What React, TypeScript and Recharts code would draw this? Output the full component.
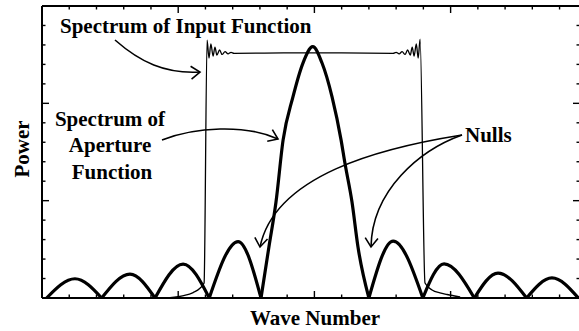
import { LineChart, Line, XAxis, YAxis } from "recharts";

// tick positions of the frame (no labels, inward marks only)
const waveTicks = [0, 1, 2, 3, 4, 5, 6, 7, 8, 9, 10, 11, 12, 13, 14, 15, 16, 17, 18, 19];
const powerTicks = [0, 1, 2, 3, 4, 5, 6, 7, 8, 9, 10, 11, 12, 13, 14, 15];

// spectrum of the aperture function (thick curve)
const apertureK = [
  0.17, 1.21, 2.19, 3.23, 4.15, 5.18, 6.14, 7.2, 8.04,
  8.33, 8.59, 8.85, 9.21, 9.58, 9.94, 10.28, 10.65, 10.98, 11.12, 11.38, 11.6, 12.0,
  12.89, 13.98, 14.76, 15.87, 16.74, 17.79, 18.72, 19.69,
];
const aperturePower = [
  0, 0.99, 0, 1.23, 0, 1.74, 0, 2.9, 0,
  2.62, 4.93, 8.11, 10.32, 12.07, 12.91, 12.07, 10.32, 8.11, 6.93, 4.93, 2.62, 0,
  2.92, 0, 1.75, 0, 1.28, 0, 1.03, 0,
];

// spectrum of the input function (thin curve)
const inputK = [
  4.7, 5.2, 5.55, 5.8, 5.95, 6.06, 6.13, 6.2, 6.28, 6.35, 6.42, 6.52, 6.61, 6.72, 6.83, 6.94, 7.05,
  9.0, 11.0,
  12.89, 13.0, 13.11, 13.22, 13.33, 13.42, 13.52, 13.59, 13.66, 13.74, 13.81, 13.88,
  14.06, 14.32, 14.61, 14.87, 15.35,
];
const inputPower = [
  0.02, 0.12, 0.28, 0.5, 0.77, 13.25, 12.33, 13.05, 12.43, 12.89, 12.48, 12.74, 12.51, 12.66, 12.54, 12.62, 12.57,
  12.59, 12.59,
  12.57, 12.62, 12.54, 12.66, 12.51, 12.74, 12.48, 12.89, 12.43, 13.05, 12.33, 13.3,
  0.77, 0.41, 0.26, 0.18, 0.05,
];

const W = 581;
const H = 331;
const margin = { top: 6, right: 1, bottom: 33, left: 42 };
const kDomain: [number, number] = [0, 19.75];
const pDomain: [number, number] = [0, 15];
const textStyle = { fontFamily: "Liberation Serif", fontWeight: 700, fontSize: 21 };

// split the aperture curve at its nulls so every lobe keeps a sharp cusp
const apertureLobes: { k: number; p: number }[][] = [];
let lobe: { k: number; p: number }[] = [];
apertureK.forEach((k, i) => {
  const pt = { k, p: aperturePower[i] };
  lobe.push(pt);
  if (pt.p === 0 && lobe.length > 1) {
    apertureLobes.push(lobe);
    lobe = [pt];
  }
});

const inputData = inputK.map((k, i) => ({ k, p: inputPower[i] }));

const FrameTick = (props: any) => {
  const { x, y, payload, side } = props;
  const len = payload.value % 5 === 0 ? 7 : 3.5;
  const dx = side === "left" ? len : side === "right" ? -len : 0;
  const dy = side === "top" ? len : side === "bottom" ? -len : 0;
  return <line x1={x} y1={y} x2={x + dx} y2={y + dy} stroke="#000" strokeWidth={1.4} />;
};

const Arrow = ({ d, tip, from }: { d: string; tip: [number, number]; from: [number, number] }) => {
  const ux = tip[0] - from[0];
  const uy = tip[1] - from[1];
  const n = Math.hypot(ux, uy);
  const a = 0.62;
  const size = 11;
  const arm = (s: number) => {
    const c = Math.cos(s * a);
    const sn = Math.sin(s * a);
    const rx = (ux * c - uy * sn) / n;
    const ry = (ux * sn + uy * c) / n;
    return `${tip[0] - rx * size},${tip[1] - ry * size}`;
  };
  return (
    <g fill="none" stroke="#000" strokeWidth={1.6}>
      <path d={d} />
      <path d={`M${arm(1)} L${tip[0]},${tip[1]} L${arm(-1)}`} />
    </g>
  );
};

const Caption = ({ x, y, anchor, rotate, children }: any) => (
  <text
    x={x}
    y={y}
    textAnchor={anchor || "start"}
    transform={rotate ? `rotate(${rotate} ${x} ${y})` : undefined}
    style={textStyle}
    fill="#000"
  >
    {children}
  </text>
);

// labels and arrows drawn on an overlay above the chart
const Annotations = () => (
  <svg width={W} height={H} style={{ position: "absolute", left: 0, top: 0, pointerEvents: "none" }}>
    <Caption x={60} y={33}>Spectrum of Input Function</Caption>
    <Caption x={110} y={126} anchor="middle">Spectrum of</Caption>
    <Caption x={110} y={152} anchor="middle">Aperture</Caption>
    <Caption x={112} y={179} anchor="middle">Function</Caption>
    <Caption x={465} y={142}>Nulls</Caption>
    <Caption x={315} y={325} anchor="middle">Wave Number</Caption>
    <Caption x={29} y={149} anchor="middle" rotate={-90}>Power</Caption>
    <Arrow d="M115,40 C140,62 165,74 200,72" tip={[200, 72]} from={[180, 73.5]} />
    <Arrow d="M162,140 C195,127 245,124 278,139" tip={[278, 139]} from={[262, 132]} />
    <Arrow d="M462,135 C380,148 275,175 260,247" tip={[260, 247]} from={[262, 232]} />
    <Arrow d="M462,135 C420,150 372,190 371,247" tip={[371, 247]} from={[372, 232]} />
  </svg>
);

const axisLine = { stroke: "#000", strokeWidth: 2 };

export default function App() {
  return (
    <div style={{ position: "absolute", left: 0, top: 0, width: 579, height: 331, overflow: "hidden", background: "#fff" }}>
      <LineChart width={W} height={H} margin={margin}>
        <XAxis
          xAxisId="bottom"
          dataKey="k"
          type="number"
          domain={kDomain}
          ticks={waveTicks}
          interval={0}
          orientation="bottom"
          mirror
          tickSize={0}
          tickMargin={0}
          tickLine={false}
          allowDataOverflow
          axisLine={axisLine}
          tick={<FrameTick side="bottom" />}
        />
        <XAxis
          xAxisId="top"
          dataKey="k"
          type="number"
          domain={kDomain}
          ticks={waveTicks}
          interval={0}
          orientation="top"
          mirror
          tickSize={0}
          tickMargin={0}
          tickLine={false}
          allowDataOverflow
          axisLine={axisLine}
          tick={<FrameTick side="top" />}
        />
        <YAxis
          yAxisId="left"
          type="number"
          domain={pDomain}
          ticks={powerTicks}
          interval={0}
          orientation="left"
          mirror
          tickSize={0}
          tickMargin={0}
          tickLine={false}
          allowDataOverflow
          axisLine={axisLine}
          tick={<FrameTick side="left" />}
        />
        <YAxis
          yAxisId="right"
          type="number"
          domain={pDomain}
          ticks={powerTicks}
          interval={0}
          orientation="right"
          mirror
          tickSize={0}
          tickMargin={0}
          tickLine={false}
          allowDataOverflow
          axisLine={axisLine}
          tick={<FrameTick side="right" />}
        />
        <Line
          data={inputData}
          dataKey="p"
          xAxisId="bottom"
          yAxisId="left"
          type="monotone"
          stroke="#000"
          strokeWidth={1.3}
          dot={false}
          activeDot={false}
          isAnimationActive={false}
        />
        {apertureLobes.map((seg, i) => (
          <Line
            key={i}
            data={seg}
            dataKey="p"
            xAxisId="bottom"
            yAxisId="left"
            type="monotone"
            stroke="#000"
            strokeWidth={3.2}
            dot={false}
            activeDot={false}
            isAnimationActive={false}
          />
        ))}
      </LineChart>
      <Annotations />
    </div>
  );
}
